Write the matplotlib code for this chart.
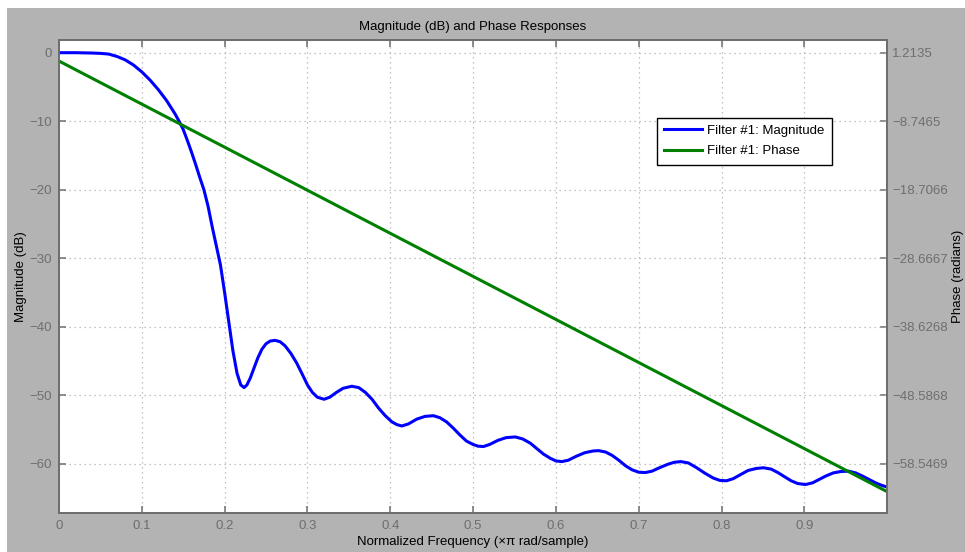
import numpy as np
import matplotlib
matplotlib.use("Agg")
import matplotlib.pyplot as plt
from matplotlib.patches import Rectangle

plt.rcParams['font.family'] = ['Liberation Sans', 'DejaVu Sans']

# magnitude response (normalized freq, dB)
freq = [0.0, 0.02, 0.03, 0.04, 0.05, 0.06, 0.07, 0.08, 0.09, 0.10,
        0.11, 0.12, 0.13, 0.14, 0.145, 0.15, 0.155, 0.16, 0.165, 0.17,
        0.175, 0.18, 0.185, 0.19, 0.195, 0.20, 0.205, 0.21, 0.215, 0.2195,
        0.2235, 0.227, 0.231, 0.235, 0.24, 0.245, 0.25, 0.255, 0.261, 0.267,
        0.273, 0.28, 0.287, 0.294, 0.30, 0.306, 0.312, 0.3201, 0.327, 0.335,
        0.343, 0.3536, 0.362, 0.37, 0.378, 0.386, 0.394, 0.402, 0.408, 0.414,
        0.422, 0.432, 0.442, 0.4522, 0.46, 0.468, 0.476, 0.484, 0.492, 0.50,
        0.506, 0.5126, 0.52, 0.53, 0.54, 0.551, 0.56, 0.569, 0.577, 0.585,
        0.593, 0.60, 0.6073, 0.615, 0.625, 0.635, 0.645, 0.6515, 0.66, 0.668,
        0.676, 0.684, 0.692, 0.70, 0.7079, 0.716, 0.725, 0.735, 0.743, 0.751,
        0.76, 0.77, 0.78, 0.79, 0.798, 0.806, 0.814, 0.823, 0.832, 0.842,
        0.8508, 0.86, 0.868, 0.876, 0.884, 0.892, 0.9012, 0.91, 0.918, 0.926,
        0.935, 0.944, 0.9535, 0.962, 0.97, 0.978, 0.986, 0.993, 0.998]
mag_db = [0.0, 0.0, -0.02, -0.05, -0.1, -0.2, -0.55, -1.05, -1.8, -2.8,
          -4.0, -5.4, -7.0, -8.9, -10.0, -11.2, -12.8, -14.5, -16.3, -18.2,
          -20.0, -22.4, -25.4, -28.2, -31.0, -35.0, -39.2, -43.5, -46.8, -48.5,
          -48.9, -48.5, -47.5, -46.2, -44.6, -43.3, -42.5, -42.1, -42.0, -42.2,
          -42.8, -43.9, -45.3, -47.0, -48.5, -49.6, -50.3, -50.6, -50.3, -49.6,
          -49.0, -48.7, -48.9, -49.6, -50.6, -51.9, -53.0, -53.9, -54.3, -54.5,
          -54.2, -53.5, -53.1, -53.0, -53.3, -53.9, -54.8, -55.8, -56.7, -57.2,
          -57.45, -57.5, -57.2, -56.6, -56.2, -56.1, -56.4, -57.0, -57.8, -58.6,
          -59.2, -59.6, -59.7, -59.5, -58.9, -58.4, -58.15, -58.1, -58.3, -58.8,
          -59.5, -60.3, -60.9, -61.25, -61.3, -61.1, -60.6, -60.1, -59.8, -59.7,
          -59.9, -60.6, -61.4, -62.1, -62.45, -62.5, -62.2, -61.6, -61.0, -60.7,
          -60.6, -60.8, -61.3, -61.9, -62.5, -62.9, -63.05, -62.8, -62.3, -61.8,
          -61.35, -61.15, -61.1, -61.35, -61.8, -62.3, -62.8, -63.15, -63.35]

# phase response (straight line, radians)
phase_freq = [0.0, 0.998]
phase_rad = [0.0, -62.5]

x_ticks = [0, 0.1, 0.2, 0.3, 0.4, 0.5, 0.6, 0.7, 0.8, 0.9]
x_labels = ['0', '0.1', '0.2', '0.3', '0.4', '0.5', '0.6', '0.7', '0.8', '0.9']
mag_ticks = [0, -10, -20, -30, -40, -50, -60]
phase_labels = ['1.2135', '-8.7465', '-18.7066', '-28.6667', '-38.6268',
                '-48.5868', '-58.5469']

fig = plt.figure(figsize=(9.65, 5.52), dpi=100)
fig.patch.set_facecolor('white')
fig.patches.append(Rectangle((7 / 965, 0), 1, 1 - 8 / 552, transform=fig.transFigure,
                             facecolor='#b3b3b3', edgecolor='none', zorder=-10))

ax = fig.add_axes([0.0611, 0.0701, 0.8578, 0.8574])
ax2 = ax.twinx()
ax.set_zorder(ax2.get_zorder() + 1)
ax.patch.set_visible(False)
ax2.patch.set_facecolor('white')
ax2.patch.set_visible(True)

tick_col = '#6e6e6e'
spine_col = '#6e6e6e'

l1, = ax.plot(freq, mag_db, color='#0000ff', lw=2.2, label='Filter #1: Magnitude')

ylo, yhi = -67.25, 1.85
ax.set_xlim(0, 0.9995)
ax.set_ylim(ylo, yhi)

# right axis scaled so its ticks line up with the left grid
scale = 9.96005 / 10
offset = 1.2135
ax2.set_ylim(ylo * scale + offset, yhi * scale + offset)
phase_vals = [float(s) for s in phase_labels]
ax2.set_yticks(phase_vals)
ax2.set_yticklabels([s.replace('-', '\u2212') for s in phase_labels])

# phase is drawn in left-axis units so both lines share one layer
l2, = ax.plot(phase_freq, [(p - offset) / scale for p in phase_rad],
              color='#008000', lw=2.2, label='Filter #1: Phase')

ax.set_xticks(x_ticks)
ax.set_xticklabels(x_labels)
ax.set_yticks(mag_ticks)

ax.grid(True, color='#b0b0b0', linestyle=(0, (1, 3)), linewidth=0.9)

for a in (ax, ax2):
    for s in a.spines.values():
        s.set_color(spine_col)
        s.set_linewidth(1.3)
ax.tick_params(axis='both', direction='in', length=5, width=1.1, color=spine_col,
               labelcolor=tick_col, labelsize=9.5, top=True, pad=5)
ax.tick_params(axis='y', right=False)
ax2.tick_params(axis='y', direction='in', length=5, width=1.1, color=spine_col,
                labelcolor=tick_col, labelsize=9.5, pad=4)

ax.set_xlabel('Normalized Frequency (\u00d7\u03c0 rad/sample)', fontsize=9.5, labelpad=3)
ax.set_ylabel('Magnitude (dB)', fontsize=9.5, labelpad=2)
ax2.set_ylabel('Phase (radians)', fontsize=9.5, labelpad=3)
ax.set_title('Magnitude (dB) and Phase Responses', fontsize=9.5, pad=7)

leg = ax.legend(handles=[l1, l2], loc='upper left', bbox_to_anchor=(0.714, 0.85),
                fontsize=9.5, frameon=True, fancybox=False, handlelength=2.9,
                borderpad=0.55, labelspacing=0.6, handletextpad=0.4)
leg.get_frame().set_edgecolor('black')
leg.get_frame().set_linewidth(1.0)
leg.get_frame().set_alpha(1)

fig.savefig('out.png', dpi=100)
